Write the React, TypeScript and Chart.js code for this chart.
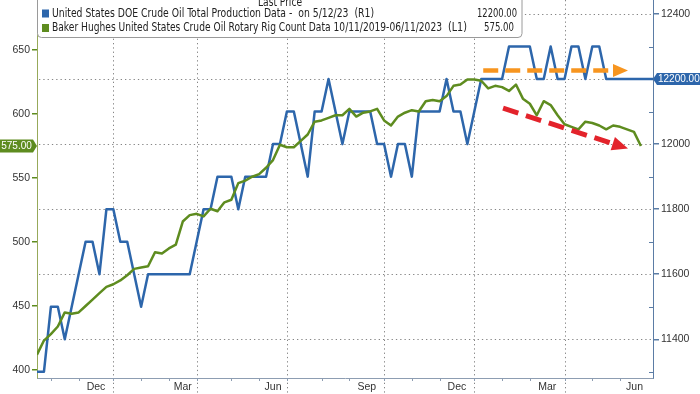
import React, { useEffect, useRef } from "react";
import { Chart, registerables } from "chart.js";

Chart.register(...registerables);

// ---------- data ----------
// weekly observations (Fridays), first one on 2021-10-22
const START_UTC = Date.UTC(2021, 9, 22);
const DAY_MS = 86400000;

// Baker Hughes US crude oil rotary rig count (left axis)
const rigCount = [
  412, 423, 428, 434, 445, 444, 445, 450, 455, 460,
  465, 467, 470, 474, 479, 480, 481, 492, 491, 495,
  498, 516, 521, 522, 520, 526, 524, 531, 533, 546,
  548, 551, 553, 558, 564, 576, 574, 574, 579, 584,
  594, 595, 597, 599, 599, 604, 598, 601, 602, 604,
  595, 591, 598, 601, 603, 602, 610, 611, 610, 614,
  622, 623, 627, 627, 626, 620, 622, 621, 618, 623,
  612, 608, 599, 610, 607, 599, 592, 590, 588, 594,
  593, 591, 588, 591, 590, 588, 586, 575,
];

// US DOE crude oil total production, thousand b/d (right axis)
const production = [
  11300, 11300, 11500, 11500, 11400, 11500, 11600, 11700, 11700, 11600,
  11800, 11800, 11700, 11700, 11600, 11500, 11600, 11600, 11600, 11600,
  11600, 11600, 11600, 11700, 11800, 11800, 11900, 11900, 11900, 11800,
  11900, 11900, 11900, 11900, 12000, 12000, 12100, 12100, 12000, 11900,
  12100, 12100, 12200, 12100, 12000, 12100, 12100, 12100, 12100, 12000,
  12000, 11900, 12000, 12000, 11900, 12100, 12100, 12100, 12100, 12200,
  12100, 12100, 12000, 12100, 12200, 12200, 12200, 12200, 12300, 12300,
  12300, 12300, 12200, 12200, 12300, 12200, 12200, 12300, 12300, 12200,
  12300, 12300, 12200, 12200, 12200, 12200, 12200, 12200, 12200, 12200,
];

const leftTicks = [400, 450, 500, 550, 600, 650];
const rightTicks = [11400, 11600, 11800, 12000, 12200, 12400];
const rightMinorTicks = [11300, 11500, 11700, 11900, 12100, 12300];
const monthNames = ["Jan", "Feb", "Mar", "Apr", "May", "Jun", "Jul", "Aug", "Sep", "Oct", "Nov", "Dec"];
const labelMonths = ["Dec", "Mar", "Jun", "Sep"];
const gridMonths = ["Jan", "Apr", "Jul", "Oct"];

const legendTitle = "Last Price";
const prodLabel = "United States DOE Crude Oil Total Production Data -  on 5/12/23  (R1)";
const rigLabel = "Baker Hughes United States Crude Oil Rotary Rig Count Data 10/11/2019-06/11/2023";
const rigAxisTag = "(L1)";

// annotation arrows, in data coordinates [day since start, value]
const orangeArrow = [[450, 12226], [596, 12226]]; // right axis
const redArrow = [[470, 604.5], [596, 573]]; // left axis

// axis ranges
const X_MIN = 0;
const X_MAX = 621.2;
const LEFT_MIN = 393.75;
const LEFT_MAX = 689.06;
const RIGHT_MIN = 11281;
const RIGHT_MAX = 12443;

// ---------- styles ----------
const BLUE = "#2d66ab";
const GREEN = "#5e8c1f";
const ORANGE = "#f7951f";
const RED = "#e3232b";
const GRID = "#858585";
const TEXT = "#333333";
const AXIS_FONT = "'Liberation Sans', Arial, sans-serif";
const LEGEND_FONT = "'Liberation Sans Narrow', 'DejaVu Sans Condensed', 'Liberation Sans', sans-serif";

function fittedText(ctx: any, text: string, x: number, y: number, w: number, align = "left") {
  const m = ctx.measureText(text).width || 1;
  ctx.save();
  const s = w / m;
  let x0 = x;
  if (align === "right") x0 = x - w;
  ctx.translate(x0, y);
  ctx.scale(s, 1);
  ctx.textAlign = "left";
  ctx.fillText(text, 0, 0);
  ctx.restore();
}

function drawArrow(ctx: any, x1: number, y1: number, x2: number, y2: number, color: string, width: number, dash: number[], headLen: number, headHalf: number) {
  const dx = x2 - x1;
  const dy = y2 - y1;
  const len = Math.hypot(dx, dy);
  const ux = dx / len;
  const uy = dy / len;
  const bx = x2 - ux * headLen;
  const by = y2 - uy * headLen;
  ctx.save();
  ctx.strokeStyle = color;
  ctx.fillStyle = color;
  ctx.lineWidth = width;
  ctx.lineCap = "butt";
  ctx.setLineDash(dash);
  ctx.beginPath();
  ctx.moveTo(x1, y1);
  ctx.lineTo(bx, by);
  ctx.stroke();
  ctx.setLineDash([]);
  ctx.beginPath();
  ctx.moveTo(x2, y2);
  ctx.lineTo(bx - uy * headHalf, by + ux * headHalf);
  ctx.lineTo(bx + uy * headHalf, by - ux * headHalf);
  ctx.closePath();
  ctx.fill();
  ctx.restore();
}

function monthBoundaries() {
  // first weekly observation of each month
  const out: { day: number; month: string }[] = [];
  let prev = new Date(START_UTC).getUTCMonth();
  for (let i = 1; i < 110; i++) {
    const d = new Date(START_UTC + i * 7 * DAY_MS);
    const m = d.getUTCMonth();
    if (m !== prev) out.push({ day: i * 7, month: monthNames[m] });
    prev = m;
  }
  return out;
}

const decor = {
  id: "decor",
  beforeDatasetsDraw(chart: any) {
    const { ctx, chartArea: ca, scales } = chart;
    const x = scales.x;
    const yR = scales.yR;
    const bounds = monthBoundaries();
    ctx.save();
    // horizontal dotted grid (right axis)
    ctx.strokeStyle = GRID;
    ctx.lineWidth = 1;
    ctx.setLineDash([1.3, 3]);
    for (const v of rightTicks) {
      const py = Math.round(yR.getPixelForValue(v)) + 0.5;
      ctx.beginPath();
      ctx.moveTo(ca.left + 2, py);
      ctx.lineTo(ca.right, py);
      ctx.stroke();
    }
    // vertical dotted grid at quarter starts
    for (const b of bounds) {
      if (b.day > X_MAX || !gridMonths.includes(b.month)) continue;
      const px = Math.round(x.getPixelForValue(b.day)) + 0.5;
      ctx.beginPath();
      ctx.moveTo(px, 0);
      ctx.lineTo(px, chart.height);
      ctx.stroke();
    }
    ctx.setLineDash([]);
    // month ticks
    ctx.strokeStyle = "#8d9db2";
    for (const b of bounds) {
      if (b.day > X_MAX) continue;
      const px = Math.round(x.getPixelForValue(b.day)) + 0.5;
      ctx.beginPath();
      ctx.moveTo(px, ca.bottom);
      ctx.lineTo(px, ca.bottom + 3);
      ctx.stroke();
    }
    // right-axis minor ticks (inside)
    ctx.strokeStyle = "#5b7ca5";
    for (const v of rightMinorTicks) {
      const py = Math.round(yR.getPixelForValue(v)) + 0.5;
      ctx.beginPath();
      ctx.moveTo(ca.right - 4, py);
      ctx.lineTo(ca.right, py);
      ctx.stroke();
    }
    // month labels
    ctx.fillStyle = TEXT;
    ctx.font = `10.5px ${AXIS_FONT}`;
    ctx.textBaseline = "middle";
    ctx.textAlign = "center";
    for (let k = 0; k < bounds.length - 1; k++) {
      const b = bounds[k];
      if (b.day > X_MAX || !labelMonths.includes(b.month)) continue;
      const mid = (b.day + bounds[k + 1].day) / 2;
      let px = x.getPixelForValue(mid);
      const w = ctx.measureText(b.month).width;
      if (px + w / 2 > ca.right - 10) px = ca.right - 10 - w / 2;
      ctx.fillText(b.month, px, ca.bottom + 9);
    }
    ctx.restore();
  },
  afterDraw(chart: any) {
    const { ctx, chartArea: ca, scales } = chart;
    const x = scales.x;
    const yL = scales.yL;
    const yR = scales.yR;
    ctx.save();
    // arrows
    drawArrow(
      ctx,
      x.getPixelForValue(orangeArrow[0][0]), yR.getPixelForValue(orangeArrow[0][1]),
      x.getPixelForValue(orangeArrow[1][0]), yR.getPixelForValue(orangeArrow[1][1]),
      ORANGE, 4.5, [15, 7], 15, 6.5
    );
    drawArrow(
      ctx,
      x.getPixelForValue(redArrow[0][0]), yL.getPixelForValue(redArrow[0][1]),
      x.getPixelForValue(redArrow[1][0]), yL.getPixelForValue(redArrow[1][1]),
      RED, 5, [16, 8], 16, 7
    );

    // last-price badges
    const lastRig = rigCount[rigCount.length - 1];
    const lastProd = production[production.length - 1];
    const gy = yL.getPixelForValue(lastRig);
    ctx.fillStyle = GREEN;
    ctx.beginPath();
    ctx.moveTo(0, gy - 6.5);
    ctx.lineTo(ca.left - 4, gy - 6.5);
    ctx.lineTo(ca.left, gy);
    ctx.lineTo(ca.left - 4, gy + 6.5);
    ctx.lineTo(0, gy + 6.5);
    ctx.closePath();
    ctx.fill();
    ctx.fillStyle = "#ffffff";
    ctx.font = `10px ${AXIS_FONT}`;
    ctx.textBaseline = "middle";
    ctx.textAlign = "center";
    ctx.fillText(lastRig.toFixed(2), (ca.left - 4) / 2, gy + 0.5);

    const by = yR.getPixelForValue(lastProd);
    ctx.fillStyle = BLUE;
    ctx.beginPath();
    ctx.moveTo(ca.right, by);
    ctx.lineTo(ca.right + 4, by - 6);
    ctx.lineTo(chart.width, by - 6);
    ctx.lineTo(chart.width, by + 6);
    ctx.lineTo(ca.right + 4, by + 6);
    ctx.closePath();
    ctx.fill();
    ctx.fillStyle = "#ffffff";
    ctx.textAlign = "left";
    ctx.fillText(lastProd.toFixed(2), ca.right + 5, by + 0.5);

    // legend box
    const lx = ca.left;
    const lr = 522;
    const lb = 37.5;
    ctx.fillStyle = "#ffffff";
    ctx.strokeStyle = "#9a9a9a";
    ctx.lineWidth = 1;
    ctx.beginPath();
    ctx.moveTo(lx + 0.5, -2);
    ctx.lineTo(lx + 0.5, lb - 4);
    ctx.quadraticCurveTo(lx + 0.5, lb, lx + 4.5, lb);
    ctx.lineTo(lr - 4, lb);
    ctx.quadraticCurveTo(lr, lb, lr, lb - 4);
    ctx.lineTo(lr, -2);
    ctx.closePath();
    ctx.fill();
    ctx.stroke();

    ctx.fillStyle = "#222222";
    ctx.textBaseline = "middle";
    ctx.font = `11.5px ${LEGEND_FONT}`;
    fittedText(ctx, legendTitle, 258, 3.5, 44);
    // row 1
    ctx.fillStyle = BLUE;
    ctx.fillRect(42, 9.5, 7, 8);
    ctx.fillStyle = "#222222";
    fittedText(ctx, prodLabel, 52, 14, 322);
    fittedText(ctx, lastProd.toFixed(2), 517, 14, 40, "right");
    // row 2
    ctx.fillStyle = GREEN;
    ctx.fillRect(42, 24, 7, 8);
    ctx.fillStyle = "#222222";
    fittedText(ctx, rigLabel, 52, 28.5, 390);
    fittedText(ctx, rigAxisTag, 448, 28.5, 19);
    fittedText(ctx, lastRig.toFixed(2), 514, 28.5, 30, "right");
    ctx.restore();
  },
};

const noEdgePadding = (s: any) => {
  s.paddingTop = 0;
  s.paddingBottom = 0;
};

export default function App() {
  const ref = useRef<HTMLCanvasElement>(null);
  useEffect(() => {
    const canvas = ref.current;
    if (!canvas) return;
    const chart = new Chart(canvas, {
      type: "line",
      data: {
        datasets: [
          {
            label: "Rig count",
            data: rigCount.map((v, i) => ({ x: i * 7, y: v })),
            yAxisID: "yL",
            borderColor: GREEN,
            borderWidth: 2.5,
            pointRadius: 0,
            tension: 0,
            fill: false,
            borderJoinStyle: "round",
          },
          {
            label: "Production",
            data: production.map((v, i) => ({ x: i * 7, y: v })),
            yAxisID: "yR",
            borderColor: BLUE,
            borderWidth: 2.5,
            pointRadius: 0,
            tension: 0,
            fill: false,
            borderJoinStyle: "round",
          },
        ],
      },
      options: {
        responsive: false,
        animation: false,
        devicePixelRatio: 1,
        events: [],
        layout: { padding: 0, autoPadding: false },
        plugins: { legend: { display: false }, tooltip: { enabled: false } },
        scales: {
          x: {
            type: "linear",
            min: X_MIN,
            max: X_MAX,
            grid: { display: false },
            ticks: { display: false },
            border: { display: true, color: "#8d9db2", width: 1 },
            afterFit: (s: any) => {
              s.height = 16;
              s.paddingLeft = 0;
              s.paddingRight = 0;
            },
          },
          yL: {
            type: "linear",
            position: "left",
            min: LEFT_MIN,
            max: LEFT_MAX,
            afterBuildTicks: (s: any) => {
              s.ticks = leftTicks.map((v) => ({ value: v }));
            },
            afterFit: (s: any) => {
              s.width = 37;
              noEdgePadding(s);
            },
            grid: { drawOnChartArea: false, drawTicks: true, tickLength: 5, color: GREEN, lineWidth: 1.5 },
            border: { display: true, color: "#97a95a", width: 1 },
            ticks: {
              color: TEXT,
              padding: 2,
              font: { family: AXIS_FONT, size: 10.5 },
              callback: (v: any) => String(v),
            },
          },
          yR: {
            type: "linear",
            position: "right",
            min: RIGHT_MIN,
            max: RIGHT_MAX,
            afterBuildTicks: (s: any) => {
              s.ticks = rightTicks.map((v) => ({ value: v }));
            },
            afterFit: (s: any) => {
              s.width = 47;
              noEdgePadding(s);
            },
            grid: { drawOnChartArea: false, drawTicks: true, tickLength: 6, color: "#5b7ca5", lineWidth: 1.5 },
            border: { display: true, color: "#5b7ca5", width: 1 },
            ticks: {
              color: TEXT,
              padding: 2,
              font: { family: AXIS_FONT, size: 10.5 },
              callback: (v: any) => String(v),
            },
          },
        },
      },
      plugins: [decor],
    } as any);
    return () => chart.destroy();
  }, []);

  return (
    <div style={{ position: "fixed", left: 0, top: 0, width: 700, height: 394, background: "#ffffff" }}>
      <canvas ref={ref} width={700} height={394} style={{ display: "block", width: 700, height: 394 }} />
    </div>
  );
}
